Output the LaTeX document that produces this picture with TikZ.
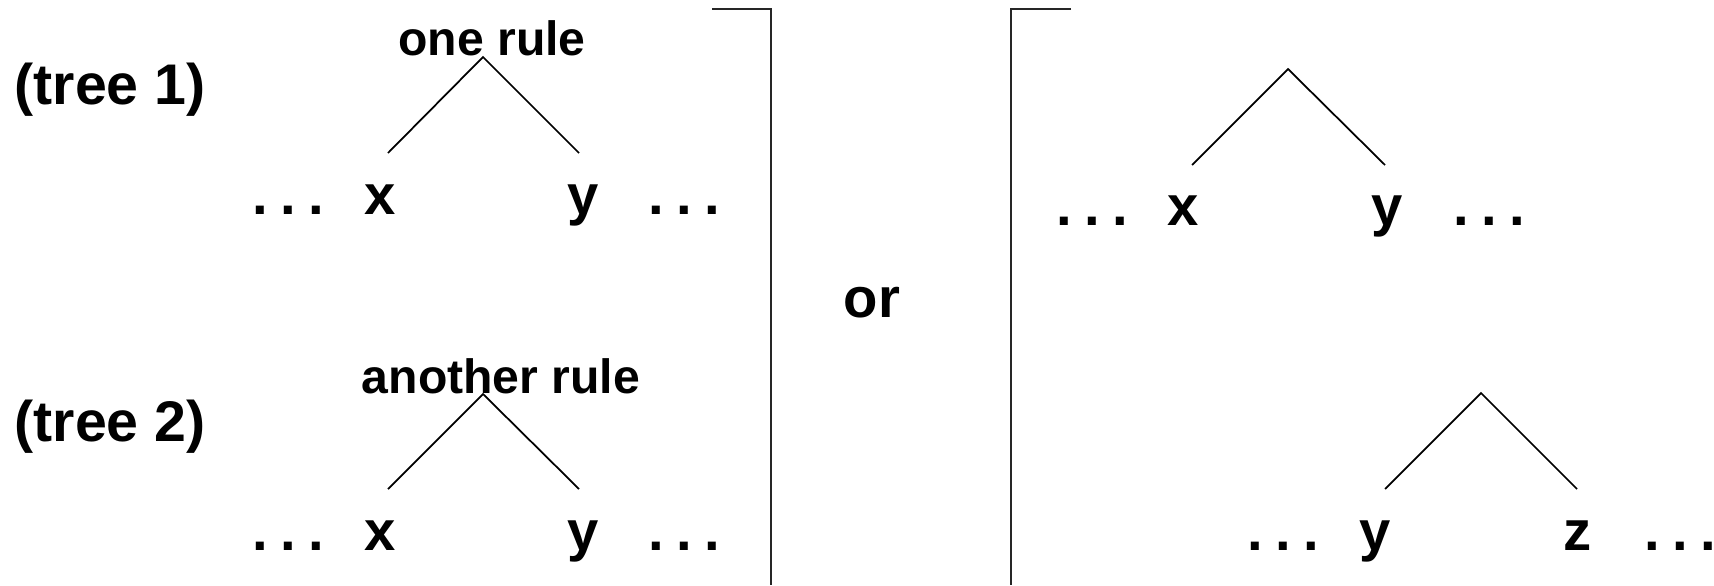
\documentclass[tikz,border=0pt]{standalone}
\usepackage{fontspec}
\setmainfont{Liberation Sans}
\usepackage{tikz}

% three spaced dots for the elided part of a yield
\newcommand{\moredots}{.\kern.22em.\kern.22em.}

\begin{document}
\begin{tikzpicture}
            \tikzset{
                tree_label/.style={anchor=base west, inner sep=0pt, font=\bfseries\fontsize{16.3}{19}\selectfont},
                rule_label/.style={anchor=base, inner sep=0pt, font=\bfseries\fontsize{13.7}{16}\selectfont},
                leaf/.style={anchor=base, inner sep=0pt, font=\bfseries\fontsize{16}{19}\selectfont},
                branch/.style={line width=0.5pt},
                bracket/.style={line width=0.45pt, black!85}
            }
            \useasboundingbox (0,0) rectangle (17.14,5.85);

            % left column: the two trees
            \node[tree_label] (T1) at (0.14,4.81) {(tree 1)};
            \node[tree_label] (T2) at (0.14,1.44) {(tree 2)};

            \node[rule_label] (R1) at (4.92,5.30) {one rule};
            \coordinate (R1top) at (4.83,5.28);
            \coordinate (R1l) at (3.88,4.32);
            \coordinate (R1r) at (5.79,4.32);
            \node[leaf] (A1) at (2.88,3.71) {\moredots};
            \node[leaf] (X1) at (3.80,3.71) {x};
            \node[leaf] (Y1) at (5.83,3.71) {y};
            \node[leaf] (B1) at (6.84,3.71) {\moredots};
            \draw[branch] (R1l) -- (R1top) -- (R1r);

            \node[rule_label] (R2) at (5.01,1.92) {another rule};
            \coordinate (R2top) at (4.83,1.91);
            \coordinate (R2l) at (3.88,0.96);
            \coordinate (R2r) at (5.79,0.96);
            \node[leaf] (A2) at (2.88,0.35) {\moredots};
            \node[leaf] (X2) at (3.80,0.35) {x};
            \node[leaf] (Y2) at (5.83,0.35) {y};
            \node[leaf] (B2) at (6.84,0.35) {\moredots};
            \draw[branch] (R2l) -- (R2top) -- (R2r);

            % brackets and the word between them
            \coordinate (K1a) at (7.12,5.76);
            \coordinate (K1b) at (7.71,5.76);
            \coordinate (K1c) at (7.71,0);
            \draw[bracket] (K1a) -- (K1b) -- (K1c);
            \node[leaf] (OR) at (8.72,2.68) {or};
            \coordinate (K2a) at (10.71,5.76);
            \coordinate (K2b) at (10.11,5.76);
            \coordinate (K2c) at (10.11,0);
            \draw[bracket] (K2a) -- (K2b) -- (K2c);

            % right column: x y under one node, y z under another
            \coordinate (S1top) at (12.88,5.16);
            \coordinate (S1l) at (11.92,4.20);
            \coordinate (S1r) at (13.85,4.20);
            \node[leaf] (A3) at (10.92,3.60) {\moredots};
            \node[leaf] (X3) at (11.83,3.60) {x};
            \node[leaf] (Y3) at (13.87,3.60) {y};
            \node[leaf] (B3) at (14.89,3.60) {\moredots};
            \draw[branch] (S1l) -- (S1top) -- (S1r);

            \coordinate (S2top) at (14.81,1.92);
            \coordinate (S2l) at (13.85,0.96);
            \coordinate (S2r) at (15.77,0.96);
            \node[leaf] (A4) at (12.83,0.35) {\moredots};
            \node[leaf] (Y4) at (13.75,0.35) {y};
            \node[leaf] (Z4) at (15.78,0.35) {z};
            \node[leaf] (B4) at (16.80,0.35) {\moredots};
            \draw[branch] (S2l) -- (S2top) -- (S2r);
        \end{tikzpicture}
\end{document}
